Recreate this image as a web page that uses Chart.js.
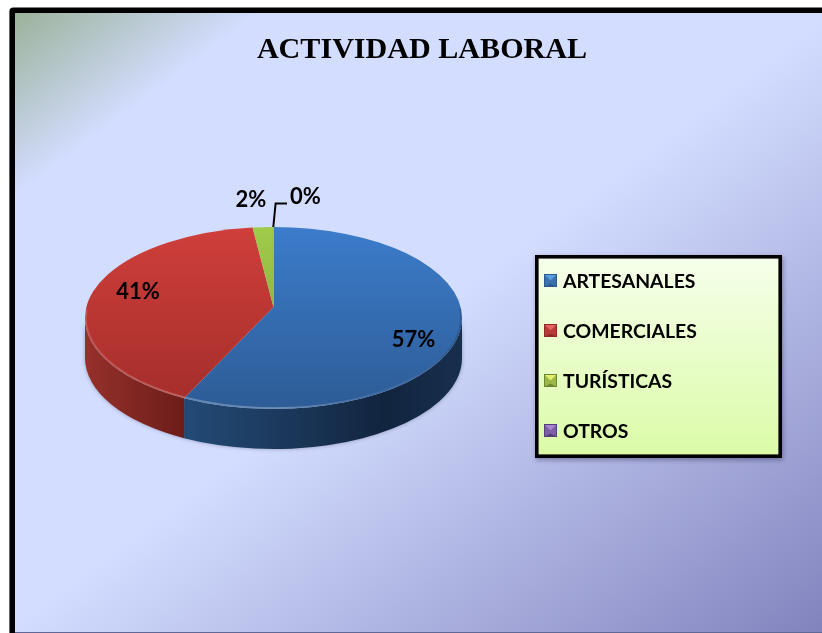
<!DOCTYPE html>
<html><head><meta charset="utf-8">
<style>html,body{margin:0;padding:0;background:#fff;overflow:hidden}canvas{display:block}</style>
<script src="https://cdn.jsdelivr.net/npm/chart.js@4"></script>
</head><body><canvas id="c" width="822" height="633"></canvas>
<script>
const titleText = "ACTIVIDAD LABORAL";
const categories = ["ARTESANALES", "COMERCIALES", "TURÍSTICAS", "OTROS"];
const values = [57, 41, 2, 0];

const sliceTop = ["#3c7ccb", "#cf3f3b", "#a0cb4a", "#8064a2"];
const sliceBottom = ["#2d5c96", "#a32d2a", "#7f9e3e", "#5f4a7c"];
const wallStops = [
  [[0, "#234b76"], [0.4, "#1a3658"], [0.72, "#11243e"], [1, "#172f4e"]],
  [[0, "#96302b"], [1, "#6c1d19"]],
  [[0, "#6f8a35"], [1, "#5a702b"]],
  [[0, "#54407a"], [1, "#44345f"]]
];
const markerShades = [
  ["#5a9fdd", "#3b71ac", "#2b5a90"],
  ["#e46463", "#b93b39", "#8d2a28"],
  ["#e6f06c", "#9bb848", "#6c8734"],
  ["#a685ce", "#7d5fa5", "#523e78"]
];

/* layout */
const FRAME = {x: 10, y: 8, line: 5, radius: 4};
const PIE = {left: 85, right: 462, cy: 318, squash: 0.483, depth: 40, apexShift: 0.12};
const BOX = {left: 535, top: 255, right: 782, bottom: 458, line: 3.6};
const LEGEND = {firstRow: 281.5, rowStep: 50, x: 547.7, font: 19.4, boxW: 5.6};
const LABEL_FONT = "bold 22px Lato";
const labelPos = [[413.5, 339.5], [138, 292], [251, 200], [305.5, 197]];
const leader = [[273.3, 227], [275.6, 203.4], [287, 203.4]];

/* perspective: the pie's centre appears above the rim ellipse's centre */
function rimAngle(a) {
  const k = PIE.apexShift, u = Math.cos(a), v = Math.sin(a), d = 1 - k * v;
  return Math.atan2((v - k) / d, u * Math.sqrt(1 - k * k) / d);
}
function frontRange(el) {
  let s = rimAngle(el.startAngle), e = rimAngle(el.endAngle);
  while (e < s) e += Math.PI * 2;
  return [Math.max(s, 0), Math.min(e, Math.PI)];
}

Chart.ArcElement.prototype.draw = function (ctx) {
  if (this.endAngle - this.startAngle < 1e-6) return;
  const i = this.$context.index, rx = this.outerRadius, ry = rx * PIE.squash;
  const s = rimAngle(this.startAngle), e = rimAngle(this.endAngle);
  const apexY = this.y - PIE.apexShift * ry;
  const g = ctx.createLinearGradient(0, this.y - ry, 0, this.y + ry);
  g.addColorStop(0, sliceTop[i]);
  g.addColorStop(1, sliceBottom[i]);
  ctx.save();
  ctx.beginPath();
  ctx.moveTo(this.x, apexY);
  ctx.ellipse(this.x, this.y, rx, ry, 0, s, e);
  ctx.closePath();
  ctx.fillStyle = g;
  ctx.fill();
  ctx.clip();
  // bevel: light along the front rim only, dark along the right rim
  const h = ctx.createLinearGradient(this.x - rx, 0, this.x + rx, 0);
  h.addColorStop(0, "rgba(255,255,255,0.16)");
  h.addColorStop(0.5, "rgba(255,255,255,0.3)");
  h.addColorStop(0.8, "rgba(255,255,255,0.06)");
  h.addColorStop(1, "rgba(0,0,0,0.2)");
  ctx.beginPath();
  ctx.ellipse(this.x, this.y, rx, ry, 0, -0.1, Math.PI + 0.1);
  ctx.strokeStyle = h;
  ctx.lineWidth = 3.5;
  ctx.stroke();
  ctx.restore();
};

const scene = {
  id: "scene",
  afterLayout(chart) {
    const r = (PIE.right - PIE.left) / 2;
    chart.chartArea.left = PIE.left;
    chart.chartArea.right = PIE.right;
    chart.chartArea.width = r * 2;
    chart.chartArea.top = PIE.cy - r;
    chart.chartArea.bottom = PIE.cy + r;
    chart.chartArea.height = r * 2;
    const lg = chart.legend, pad = LEGEND.rowStep - LEGEND.font;
    lg.left = LEGEND.x - pad;
    lg.right = BOX.right;
    lg.top = LEGEND.firstRow - LEGEND.font / 2 - pad;
    lg.bottom = chart.height;
  },
  beforeDraw(chart) {
    const c = chart.ctx, W = chart.width, H = chart.height;
    c.save();
    c.fillStyle = "#fff";
    c.fillRect(0, 0, W, H);
    const x0 = FRAME.x + FRAME.line, y0 = FRAME.y + FRAME.line;
    const g = c.createLinearGradient(x0, y0, x0 + 0.6 * 980, y0 + 0.8 * 980);
    g.addColorStop(0, "#9bb29a");
    g.addColorStop(0.15, "#d3ddff");
    g.addColorStop(0.5, "#d3ddff");
    g.addColorStop(1, "#8283be");
    c.beginPath();
    c.roundRect(FRAME.x - 0.6, FRAME.y - 0.6, W + 20, H + 20, FRAME.radius);
    c.fillStyle = "#000";
    c.fill();
    c.fillStyle = g;
    c.fillRect(x0, y0, W, H - y0 - 1);
    c.fillStyle = "rgba(120,130,190,0.8)";
    c.fillRect(x0, H - 1, W, 1);
    // legend panel
    c.shadowColor = "rgba(40,40,80,0.45)";
    c.shadowBlur = 5;
    c.shadowOffsetX = 1;
    c.shadowOffsetY = 2;
    c.fillStyle = "#000";
    c.fillRect(BOX.left, BOX.top, BOX.right - BOX.left, BOX.bottom - BOX.top);
    c.shadowColor = "transparent";
    const b = c.createLinearGradient(0, BOX.top, 0, BOX.bottom);
    b.addColorStop(0, "#f6ffec");
    b.addColorStop(1, "#dbfba6");
    c.fillStyle = b;
    c.fillRect(BOX.left + BOX.line, BOX.top + BOX.line,
      BOX.right - BOX.left - 2 * BOX.line, BOX.bottom - BOX.top - 2 * BOX.line);
    c.restore();
  },
  beforeDatasetsDraw(chart) {
    const c = chart.ctx;
    chart.getDatasetMeta(0).data.forEach((el, i) => {
      if (el.endAngle - el.startAngle < 1e-6) return;
      const [s, e] = frontRange(el);
      if (e <= s) return;
      const rx = el.outerRadius, ry = rx * PIE.squash;
      const xa = el.x + rx * Math.cos(e), xb = el.x + rx * Math.cos(s);
      const g = c.createLinearGradient(xa, 0, xb, 0);
      wallStops[i].forEach(st => g.addColorStop(st[0], st[1]));
      c.save();
      c.shadowColor = "rgba(30,30,60,0.35)";
      c.shadowBlur = 4;
      c.beginPath();
      c.ellipse(el.x, el.y, rx, ry, 0, s, e);
      c.lineTo(xa, el.y + ry * Math.sin(e) + PIE.depth);
      c.ellipse(el.x, el.y + PIE.depth, rx, ry, 0, e, s, true);
      c.closePath();
      c.fillStyle = g;
      c.fill();
      c.restore();
    });
  },
  afterDatasetsDraw(chart) {
    const c = chart.ctx;
    c.save();
    c.strokeStyle = "#000";
    c.lineWidth = 2;
    c.beginPath();
    leader.forEach((p, i) => i ? c.lineTo(p[0], p[1]) : c.moveTo(p[0], p[1]));
    c.stroke();
    c.fillStyle = "#000";
    c.font = LABEL_FONT;
    c.textAlign = "center";
    c.textBaseline = "middle";
    const total = values.reduce((a, b) => a + b, 0);
    values.forEach((v, i) => {
      c.fillText(Math.round(v / total * 100) + "%", labelPos[i][0], labelPos[i][1]);
    });
    c.restore();
  }
};

function marker(shades) {
  const m = document.createElement("canvas");
  m.width = 13; m.height = 15;   // blank lower rows lift the square onto the text's centre line
  const c = m.getContext("2d"), n = 13, q = 6.5;
  const tri = (col, pts) => {
    c.fillStyle = col;
    c.beginPath();
    pts.forEach((p, i) => i ? c.lineTo(p[0], p[1]) : c.moveTo(p[0], p[1]));
    c.closePath();
    c.fill();
  };
  c.fillStyle = shades[1];
  c.fillRect(0, 0, n, n);
  tri(shades[0], [[0, 0], [n, 0], [q, q]]);
  tri(shades[2], [[0, n], [n, n], [q, q + 3]]);
  c.strokeStyle = shades[2];
  c.lineWidth = 1;
  c.strokeRect(0.5, 0.5, n - 1, n - 1);
  return m;
}

new Chart(document.getElementById("c"), {
  type: "pie",
  data: {
    labels: categories,
    datasets: [{data: values, backgroundColor: sliceTop, borderWidth: 0}]
  },
  plugins: [scene],
  options: {
    responsive: false,
    animation: false,
    events: [],
    layout: {padding: {left: 22, top: 32}},
    plugins: {
      tooltip: {enabled: false},
      title: {
        display: true,
        text: titleText,
        color: "#000",
        padding: 0,
        font: {family: "'Liberation Serif'", weight: "bold", size: 30.1}
      },
      legend: {
        display: true,
        position: "right",
        align: "start",
        labels: {
          usePointStyle: true,
          boxWidth: LEGEND.boxW,
          boxHeight: LEGEND.boxW,
          padding: LEGEND.rowStep - LEGEND.font,
          color: "#000",
          font: {family: "Lato", weight: "bold", size: LEGEND.font},
          generateLabels: () => categories.map((t, i) => ({
            text: t, index: i, pointStyle: marker(markerShades[i]),
            fillStyle: sliceTop[i], strokeStyle: sliceTop[i], lineWidth: 0, hidden: false
          }))
        }
      }
    }
  }
});
</script></body></html>
